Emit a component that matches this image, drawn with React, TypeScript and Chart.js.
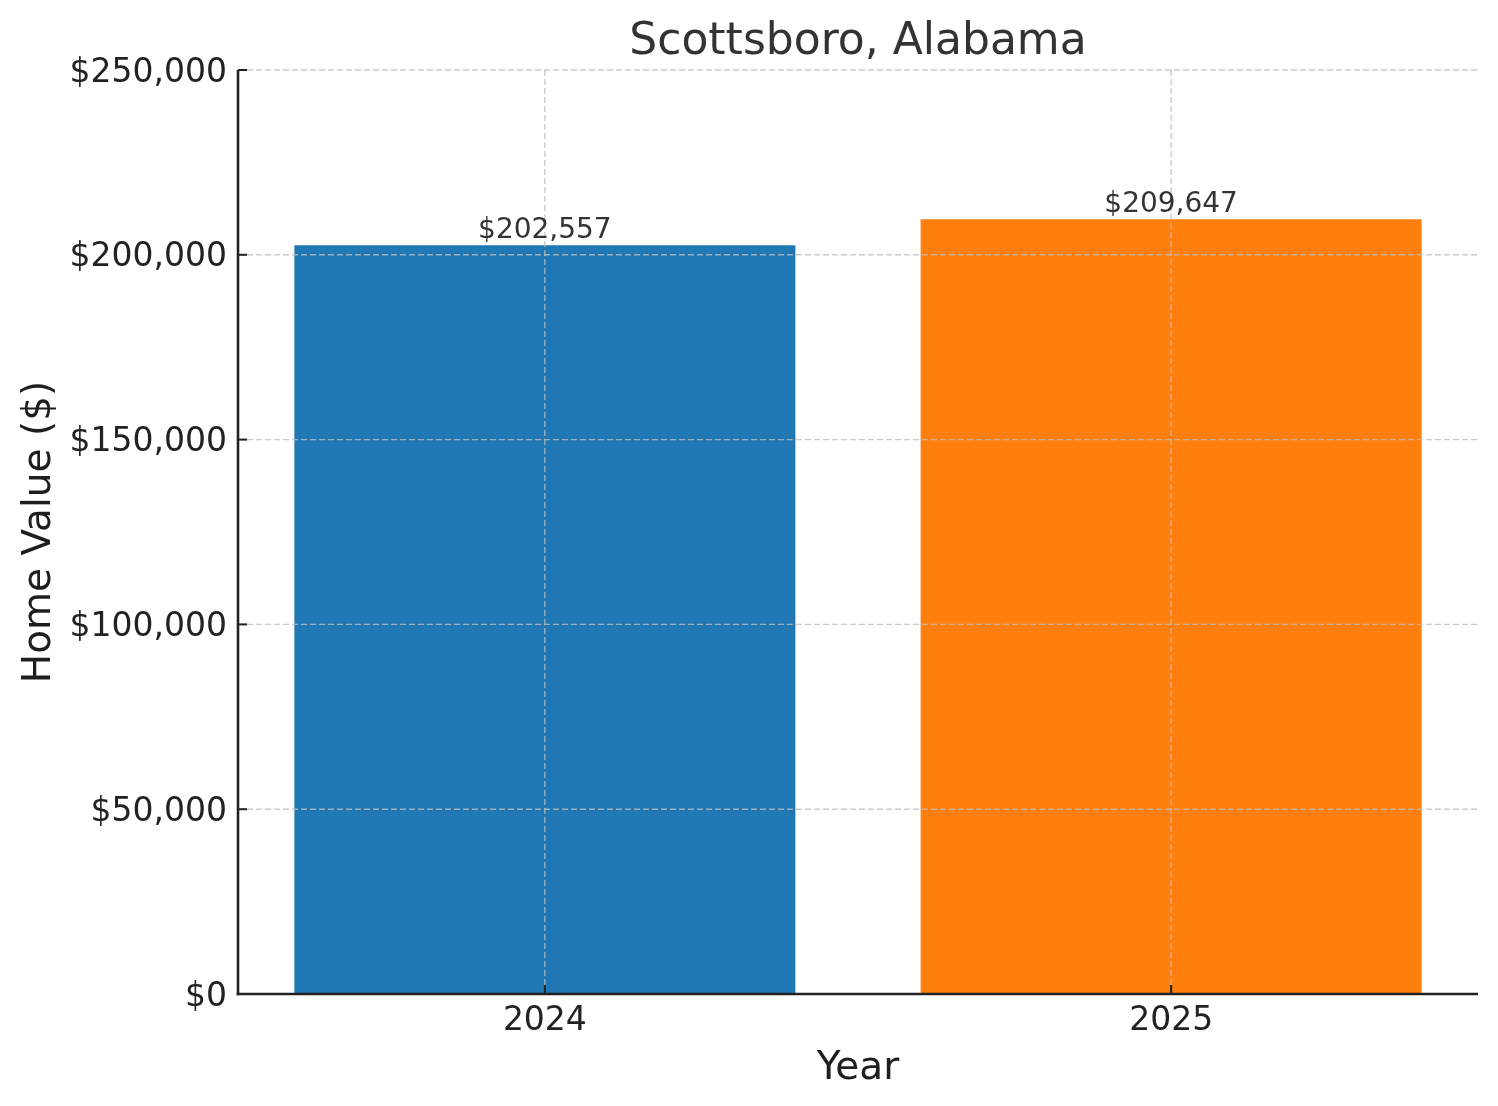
import React, { useEffect, useRef } from "react";
import { Chart, registerables } from "chart.js";

Chart.register(...registerables);

const categories = ["2024", "2025"];
const homeValues = [202557, 209647];
const barColors = ["#1f77b4", "#ff7f0e"];
const yTickValues = [0, 50000, 100000, 150000, 200000, 250000];
const chartTitle = "Scottsboro, Alabama";
const xAxisTitle = "Year";
const yAxisTitle = "Home Value ($)";

const FONT = "'DejaVu Sans', sans-serif";
const fmt = (v: number) => "$" + Math.round(v).toLocaleString("en-US");

const overlayPlugin = {
  id: "overlay",
  afterDatasetsDraw(chart: any) {
    const { ctx, chartArea: a, scales } = chart;
    const x = scales.x;
    const y = scales.y;
    const line = (x1: number, y1: number, x2: number, y2: number) => {
      ctx.beginPath();
      ctx.moveTo(x1, y1);
      ctx.lineTo(x2, y2);
      ctx.stroke();
    };
    ctx.save();
    // grid (drawn above bars)
    ctx.strokeStyle = "rgba(190,190,190,0.8)";
    ctx.lineWidth = 1.4;
    ctx.setLineDash([6, 3]);
    yTickValues.forEach((v) => {
      if (v === 0) return;
      const py = y.getPixelForValue(v);
      line(a.left, py, a.right, py);
    });
    categories.forEach((_, i) => {
      const px = x.getPixelForValue(i);
      line(px, a.top, px, a.bottom);
    });
    ctx.setLineDash([]);
    // spines
    ctx.strokeStyle = "#222222";
    ctx.lineWidth = 2.6;
    line(a.left, a.top, a.left, a.bottom + 1.3);
    line(a.left - 1.3, a.bottom, a.right, a.bottom);
    // inward ticks
    ctx.lineWidth = 2;
    yTickValues.forEach((v) => {
      const py = y.getPixelForValue(v);
      line(a.left, py, a.left + 9, py);
    });
    categories.forEach((_, i) => {
      const px = x.getPixelForValue(i);
      line(px, a.bottom, px, a.bottom - 9);
    });
    // bar value labels
    ctx.fillStyle = "#333333";
    ctx.font = `28px ${FONT}`;
    ctx.textAlign = "center";
    ctx.textBaseline = "alphabetic";
    const meta = chart.getDatasetMeta(0);
    meta.data.forEach((bar: any, i: number) => {
      ctx.fillText(fmt(homeValues[i]), bar.x, bar.y - 7);
    });
    ctx.restore();
  },
  afterDraw(chart: any) {
    const { ctx, chartArea: a } = chart;
    ctx.save();
    ctx.textAlign = "center";
    ctx.textBaseline = "alphabetic";
    ctx.fillStyle = "#333333";
    ctx.font = `44px ${FONT}`;
    ctx.fillText(chartTitle, (a.left + a.right) / 2, 54);
    ctx.fillStyle = "#1e1e1e";
    ctx.font = `39px ${FONT}`;
    ctx.fillText(xAxisTitle, (a.left + a.right) / 2, 1079);
    ctx.translate(50, (a.top + a.bottom) / 2);
    ctx.rotate(-Math.PI / 2);
    ctx.fillText(yAxisTitle, 0, 0);
    ctx.restore();
  },
};

export default function App() {
  const canvasRef = useRef<HTMLCanvasElement | null>(null);

  useEffect(() => {
    const canvas = canvasRef.current;
    if (!canvas) return;
    Chart.defaults.font.family = FONT;
    const chart = new Chart(canvas, {
      type: "bar",
      data: {
        datasets: [
          {
            label: "Home Value",
            data: homeValues.map((v, i) => ({ x: i, y: v })),
            backgroundColor: barColors,
            borderWidth: 0,
            categoryPercentage: 0.8,
            barPercentage: 1.0,
          },
        ],
      },
      options: {
        responsive: false,
        animation: false,
        devicePixelRatio: 1,
        layout: { padding: { left: 0, top: 70, right: 20, bottom: 0 } },
        plugins: {
          legend: { display: false },
          tooltip: { enabled: false },
          title: { display: false },
        },
        scales: {
          x: {
            type: "linear",
            offset: false,
            min: -0.49,
            max: 1.49,
            afterBuildTicks: (s: any) => {
              s.ticks = categories.map((_, i) => ({ value: i }));
            },
            afterFit: (s: any) => {
              s.height = 112;
            },
            grid: { display: false, drawTicks: false },
            border: { display: false },
            ticks: {
              autoSkip: false,
              maxRotation: 0,
              padding: 8,
              color: "#222222",
              font: { family: FONT, size: 33 },
              callback: (v: any) => categories[Math.round(Number(v))] ?? "",
            },
          },
          y: {
            type: "linear",
            min: 0,
            max: 250000,
            afterFit: (s: any) => {
              s.width = 238;
            },
            grid: { display: false, drawTicks: false },
            border: { display: false },
            ticks: {
              stepSize: 50000,
              padding: 11,
              labelOffset: 3,
              color: "#222222",
              font: { family: FONT, size: 33 },
              callback: (v: any) => fmt(Number(v)),
            },
          },
        },
      },
      plugins: [overlayPlugin],
    } as any);
    return () => chart.destroy();
  }, []);

  return (
    <div style={{ position: "absolute", left: 0, top: 0, width: 1498, height: 1106, background: "#fff" }}>
      <canvas ref={canvasRef} width={1498} height={1106} style={{ width: 1498, height: 1106, display: "block" }} />
    </div>
  );
}
